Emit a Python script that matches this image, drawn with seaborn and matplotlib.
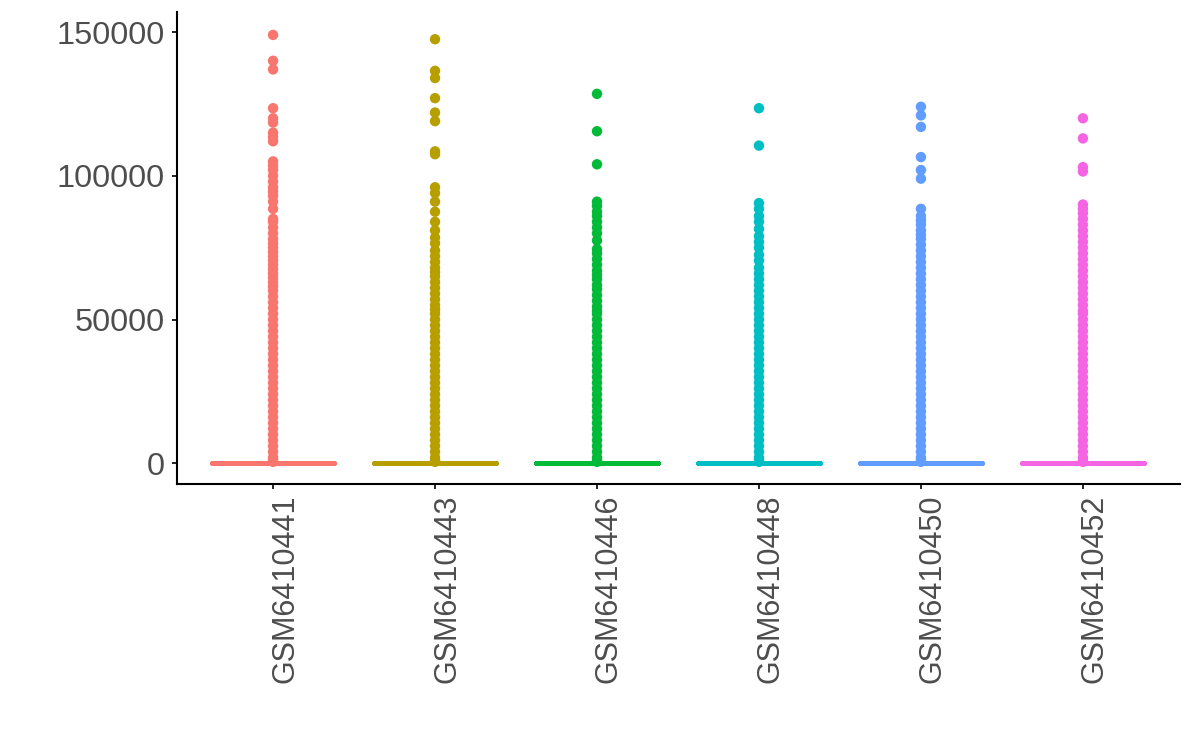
import numpy as np
import pandas as pd
import matplotlib
matplotlib.use("Agg")
import matplotlib.pyplot as plt
import matplotlib.transforms as mtransforms
import seaborn as sns

samples = ["GSM6410441", "GSM6410443", "GSM6410446",
           "GSM6410448", "GSM6410450", "GSM6410452"]
colors = ["#F8766D", "#B79F00", "#00BA38", "#00BFC4", "#619CFF", "#F564E3"]

# upper outliers, per sample
high_441 = [149000, 140000, 137000, 123500, 120000, 118500, 115000, 113500, 112000,
            105000, 103500, 102000, 100000, 98000, 96000, 94500, 93000, 91000, 88500,
            85000, 84000, 82000, 80000, 78000, 76500, 75000, 73500, 72000, 70500, 69000,
            67500, 66000, 64500, 63000, 61500, 60000, 58000, 56000, 54000]
high_443 = [147500, 136500, 134000, 127000, 122000, 119000, 108500, 107500, 96000,
            94000, 91000, 87500, 84000, 81000, 78500, 76500, 74000, 72000, 70000, 68000,
            66500, 65000, 63000, 61000, 59000, 57000, 55000, 53500]
high_446 = [128500, 115500, 104000, 91000, 89500, 87500, 86000, 84000, 82000, 80000,
            77500, 74500, 73000, 71000, 69000, 67000, 65500, 64000, 62000, 60500, 58500,
            56500, 54500, 53000]
high_448 = [123500, 110500, 90500, 88500, 86000, 84000, 81500, 79000, 77000, 75000,
            72500, 70500, 68000, 66000, 64000, 62000, 60000, 58000, 56000, 54000]
high_450 = [124000, 121000, 117000, 106500, 102000, 99000, 88500, 86000, 84500, 83000,
            81000, 79500, 78000, 76000, 74000, 72000, 70000, 68000, 66000, 64000, 62000,
            60000, 58000, 56000, 54000]
high_452 = [120000, 113000, 103000, 101500, 90000, 88500, 87000, 85000, 83000, 81000,
            79000, 77000, 75000, 73000, 71000, 69000, 67000, 65000, 63000, 61000, 59000,
            57000, 55000, 53000]

# dense column of outliers below ~52000 (continuous in every sample)
low_outliers = [52000, 50000, 48000, 46000, 44000, 42000, 40000, 38000, 36000, 34000,
                32000, 30000, 28000, 26000, 24000, 22000, 20000, 18000, 16000, 14000,
                12000, 10000, 8000, 6000, 4000, 2000, 1000, 500]

# number of genes sitting at ~0 (collapses the box onto zero)
zero_counts = [3000, 3000, 3000, 3000, 3000, 3000]

highs = [high_441, high_443, high_446, high_448, high_450, high_452]

rows = []
for s, hi, nz in zip(samples, highs, zero_counts):
    for v in hi + low_outliers:
        rows.append((s, v))
    rows.extend([(s, 0)] * nz)
df = pd.DataFrame(rows, columns=["sample", "value"])
out_df = df[df["value"] > 0]

sns.set_style("white")
plt.rcParams["font.family"] = ["Liberation Sans", "DejaVu Sans"]

fig = plt.figure(figsize=(11.92, 7.45), dpi=100)
ax = fig.add_axes([0.1485, 0.350, 0.8415, 0.634])

pal = dict(zip(samples, colors))
sns.boxplot(data=df, x="sample", y="value", hue="sample", order=samples,
            hue_order=samples, palette=pal, fill=False, width=0.75,
            linewidth=3.5, showfliers=False, legend=False, ax=ax)
sns.stripplot(data=out_df, x="sample", y="value", hue="sample", order=samples,
              hue_order=samples, palette=pal, jitter=False, size=7.5, linewidth=0,
              legend=False, ax=ax, zorder=3)

ax.set_xlim(-0.593, 5.6)
ax.set_ylim(-7300, 157000)
ax.set_yticks([0, 50000, 100000, 150000])
ax.set_yticklabels(["0", "50000", "100000", "150000"])
ax.set_xlabel("")
ax.set_ylabel("")
for side in ["top", "right"]:
    ax.spines[side].set_visible(False)
for side in ["left", "bottom"]:
    ax.spines[side].set_color("black")
    ax.spines[side].set_linewidth(1.5)
ax.tick_params(axis="both", which="major", length=3.6, width=1.2, color="black",
               labelcolor="#4D4D4D", left=True, bottom=True)
ax.tick_params(axis="y", labelsize=23.4, pad=5)
ax.tick_params(axis="x", labelsize=22, labelrotation=90, pad=4)
ax.grid(False)

shift = mtransforms.ScaledTranslation(12 / 100, 0, fig.dpi_scale_trans)
for lab in ax.get_xticklabels():
    lab.set_transform(lab.get_transform() + shift)

fig.savefig("out.png", dpi=100, facecolor="white")
